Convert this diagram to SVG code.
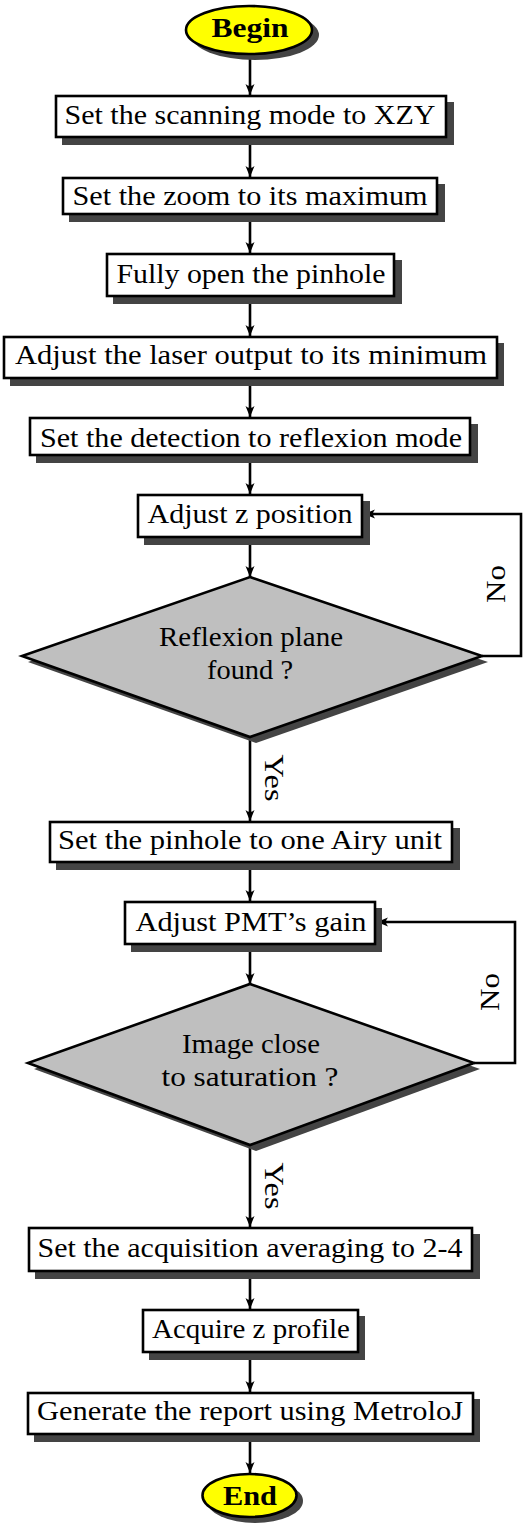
<svg xmlns="http://www.w3.org/2000/svg" width="528" height="1525" viewBox="0 0 528 1525">
<style>
.box{fill:#ffffff;stroke:#000;stroke-width:2.6}
.sh{fill:#444444;stroke:none}
.dia{fill:#bfbfbf;stroke:#000;stroke-width:2.6}
.term{fill:#ffff00;stroke:#000;stroke-width:2.6}
.t{font-family:"Liberation Serif","DejaVu Serif",serif;font-size:27px;fill:#000;text-anchor:middle}
.b{font-weight:bold}
.c{fill:none;stroke:#000;stroke-width:2.6}
</style>
<defs>
<marker id="arr" markerUnits="userSpaceOnUse" markerWidth="14" markerHeight="12" viewBox="-12 -6 13 12" refX="0" refY="0" orient="auto">
<path d="M0,0 L-11,-4.5 Q-7,0 -11,4.5 Z" fill="#000"/>
</marker>
</defs>
<rect width="528" height="1525" fill="#ffffff"/>

<g id="connectors">
<line class="c" x1="250" y1="55" x2="250" y2="95" marker-end="url(#arr)"/>
<line class="c" x1="250" y1="138" x2="250" y2="177" marker-end="url(#arr)"/>
<line class="c" x1="250" y1="215" x2="250" y2="253" marker-end="url(#arr)"/>
<line class="c" x1="250" y1="297" x2="250" y2="336" marker-end="url(#arr)"/>
<line class="c" x1="250" y1="379" x2="250" y2="417" marker-end="url(#arr)"/>
<line class="c" x1="250" y1="456" x2="250" y2="494" marker-end="url(#arr)"/>
<line class="c" x1="250" y1="538" x2="250" y2="577" marker-end="url(#arr)"/>
<line class="c" x1="250" y1="737" x2="250" y2="821" marker-end="url(#arr)"/>
<line class="c" x1="250" y1="863" x2="250" y2="901" marker-end="url(#arr)"/>
<line class="c" x1="250" y1="945" x2="250" y2="984" marker-end="url(#arr)"/>
<line class="c" x1="250" y1="1145" x2="250" y2="1227" marker-end="url(#arr)"/>
<line class="c" x1="250" y1="1272" x2="250" y2="1309" marker-end="url(#arr)"/>
<line class="c" x1="250" y1="1353" x2="250" y2="1392" marker-end="url(#arr)"/>
<line class="c" x1="250" y1="1435" x2="250" y2="1473" marker-end="url(#arr)"/>
<polyline class="c" points="482,656 521,656 521,514 364,514" marker-end="url(#arr)"/>
<polyline class="c" points="474,1063 515,1063 515,922 377,922" marker-end="url(#arr)"/>
<text class="t" transform="translate(505,584) rotate(-90)" textLength="38" lengthAdjust="spacingAndGlyphs">No</text>
<text class="t" transform="translate(265,778) rotate(90)" textLength="47" lengthAdjust="spacingAndGlyphs">Yes</text>
<text class="t" transform="translate(499,992) rotate(-90)" textLength="38" lengthAdjust="spacingAndGlyphs">No</text>
<text class="t" transform="translate(265,1186) rotate(90)" textLength="47" lengthAdjust="spacingAndGlyphs">Yes</text>
</g>

<g id="begin">
<ellipse class="sh" cx="255" cy="35" rx="64" ry="25"/>
<ellipse class="term" cx="249" cy="30" rx="63" ry="24"/>
<text class="t b" x="250" y="37" textLength="77" lengthAdjust="spacingAndGlyphs">Begin</text>
</g>

<g id="scan">
<rect class="sh" x="62" y="102" width="392" height="43"/>
<rect class="box" x="56" y="96" width="390" height="41"/>
<text class="t" x="250" y="124" textLength="371" lengthAdjust="spacingAndGlyphs">Set the scanning mode to XZY</text>
</g>

<g id="zoom">
<rect class="sh" x="69" y="184" width="376" height="38"/>
<rect class="box" x="63" y="178" width="374" height="36"/>
<text class="t" x="250" y="205" textLength="355" lengthAdjust="spacingAndGlyphs">Set the zoom to its maximum</text>
</g>

<g id="pinhole">
<rect class="sh" x="113" y="260" width="289" height="44"/>
<rect class="box" x="107" y="254" width="287" height="42"/>
<text class="t" x="251" y="283" textLength="269" lengthAdjust="spacingAndGlyphs">Fully open the pinhole</text>
</g>

<g id="laser">
<rect class="sh" x="10" y="343" width="494" height="43"/>
<rect class="box" x="4" y="337" width="493" height="41"/>
<text class="t" x="251" y="364" textLength="472" lengthAdjust="spacingAndGlyphs">Adjust the laser output to its minimum</text>
</g>

<g id="detection">
<rect class="sh" x="36" y="424" width="442" height="39"/>
<rect class="box" x="30" y="418" width="440" height="37"/>
<text class="t" x="251" y="447" textLength="422" lengthAdjust="spacingAndGlyphs">Set the detection to reflexion mode</text>
</g>

<g id="adjustz">
<rect class="sh" x="144" y="501" width="226" height="44"/>
<rect class="box" x="138" y="495" width="224" height="42"/>
<text class="t" x="250" y="523" textLength="205" lengthAdjust="spacingAndGlyphs">Adjust z position</text>
</g>

<g id="reflexion">
<polygon class="sh" points="256,583 488,662 256,743 28,662"/>
<polygon class="dia" points="250,577 482,656 250,737 22,656"/>
<text class="t" x="251" y="646" textLength="184" lengthAdjust="spacingAndGlyphs">Reflexion plane</text>
<text class="t" x="250" y="679" textLength="86" lengthAdjust="spacingAndGlyphs">found ?</text>
</g>

<g id="airy">
<rect class="sh" x="56" y="828" width="404" height="42"/>
<rect class="box" x="50" y="822" width="402" height="40"/>
<text class="t" x="250" y="849" textLength="384" lengthAdjust="spacingAndGlyphs">Set the pinhole to one Airy unit</text>
</g>

<g id="pmt">
<rect class="sh" x="131" y="908" width="251" height="44"/>
<rect class="box" x="125" y="902" width="250" height="42"/>
<text class="t" x="251" y="931" textLength="231" lengthAdjust="spacingAndGlyphs">Adjust PMT’s gain</text>
</g>

<g id="saturation">
<polygon class="sh" points="256,990 480,1069 256,1151 34,1069"/>
<polygon class="dia" points="250,984 474,1063 250,1145 28,1063"/>
<text class="t" x="251" y="1053" textLength="138" lengthAdjust="spacingAndGlyphs">Image close</text>
<text class="t" x="250" y="1086" textLength="177" lengthAdjust="spacingAndGlyphs">to saturation ?</text>
</g>

<g id="averaging">
<rect class="sh" x="35" y="1234" width="445" height="45"/>
<rect class="box" x="29" y="1228" width="443" height="43"/>
<text class="t" x="250" y="1257" textLength="425" lengthAdjust="spacingAndGlyphs">Set the acquisition averaging to 2-4</text>
</g>

<g id="acquire">
<rect class="sh" x="149" y="1316" width="216" height="44"/>
<rect class="box" x="143" y="1310" width="215" height="42"/>
<text class="t" x="251" y="1338" textLength="198" lengthAdjust="spacingAndGlyphs">Acquire z profile</text>
</g>

<g id="report">
<rect class="sh" x="34" y="1399" width="446" height="43"/>
<rect class="box" x="28" y="1393" width="445" height="41"/>
<text class="t" x="250" y="1420" textLength="426" lengthAdjust="spacingAndGlyphs">Generate the report using MetroloJ</text>
</g>

<g id="end">
<ellipse class="sh" cx="255" cy="1501" rx="48" ry="22"/>
<ellipse class="term" cx="249.5" cy="1495.5" rx="47" ry="21.5"/>
<text class="t b" x="250" y="1505" textLength="54" lengthAdjust="spacingAndGlyphs">End</text>
</g>
</svg>
